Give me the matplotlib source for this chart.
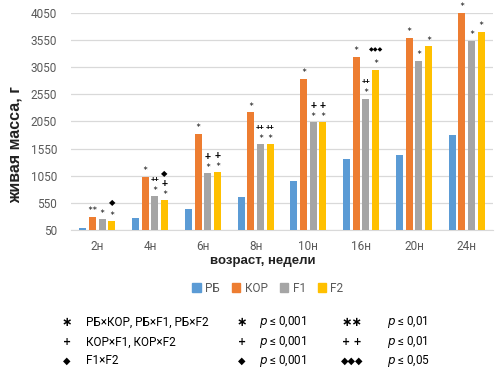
import matplotlib
matplotlib.use("Agg")
import matplotlib.pyplot as plt
from matplotlib.patches import Patch
import numpy as np

categories = ["2н", "4н", "6н", "8н", "10н", "16н", "20н", "24н"]
series_names = ["РБ", "КОР", "F1", "F2"]
rb = [95, 270, 435, 655, 945, 1350, 1430, 1800]
kor = [295, 1030, 1820, 2220, 2830, 3235, 3585, 4050]
f1 = [250, 675, 1095, 1630, 2030, 2470, 3170, 3535]
f2 = [210, 595, 1115, 1630, 2030, 3000, 3430, 3695]
colors = ["#5B9BD5", "#ED7D31", "#A5A5A5", "#FFC000"]

# significance marks, bottom to top, per bar
rb_marks = ["", "", "", "", "", "", "", ""]
kor_marks = ["**", "*", "*", "*", "*", "*", "*", "*"]
f1_marks = ["*", "* ++", "* +", "* ++", "* +", "* ++", "*", "*"]
f2_marks = ["* D", "* + D", "* +", "* ++", "* +", "* DDD", "*", "*"]

yticks = [50, 550, 1050, 1550, 2050, 2550, 3050, 3550, 4050]

plt.rcParams['font.family'] = ['Roboto', 'DejaVu Sans']

fig = plt.figure(figsize=(5.04, 3.8), dpi=100)
ax = fig.add_axes([71/504, 1-230/380, 422/504, (230-12.7)/380])

x = np.arange(len(categories))
step = 0.184
width = 0.133
data = [rb, kor, f1, f2]
marks = [rb_marks, kor_marks, f1_marks, f2_marks]


def put(s, xi, v, off, fs, fam="DejaVu Sans", weight="normal", color="black"):
    ax.annotate(s, (xi, v), xytext=(0, off * 0.72), textcoords="offset points",
                ha="center", va="center", fontsize=fs, family=fam, fontweight=weight,
                color=color, zorder=5, annotation_clip=False)


for i, (vals, col) in enumerate(zip(data, colors)):
    xs = x + (i - 1.5) * step
    ax.bar(xs, vals, width=width, color=col, zorder=3, label=series_names[i])
    for xi, v, m in zip(xs, vals, marks[i]):
        if not m:
            continue
        off = 0.0
        for tok in m.split():
            if tok in ("*", "**"):
                off += 8
                put("∗" * len(tok), xi, v, off, 4.5, color="#222222")
            elif tok == "+":
                off += 8
                put("+", xi, v, off, 7.5, fam="Liberation Sans", weight="bold")
            elif tok == "++":
                off += 8
                put("++", xi, v, off, 5.5, fam="Liberation Sans", weight="bold")
            elif tok == "D":
                off += 11
                put("◆", xi, v, off, 6)
            elif tok == "DDD":
                off += 12
                put("◆◆◆", xi, v, off, 4.5)

ax.set_xlim(-0.5, len(categories) - 0.5)
ax.set_ylim(50, 4050)
ax.set_yticks(yticks)
ax.set_xticks(x)
ax.set_xticklabels(categories)
ax.grid(axis="y", color="#D9D9D9", linewidth=0.9, zorder=0)
for sp in ("top", "right", "left"):
    ax.spines[sp].set_visible(False)
ax.spines["bottom"].set_color("#D9D9D9")
ax.tick_params(axis="both", length=0, labelsize=8.5, labelcolor="#595959")
ax.tick_params(axis="x", pad=7)
ax.tick_params(axis="y", pad=10)

fig.text(15/504, 1-145/380, "живая масса, г", rotation=90, ha="center", va="center",
         fontsize=11.5, fontweight="bold", family="Liberation Sans", color="#222222")
fig.text(263/504, 1-261/380, "возраст, недели", ha="center", va="center",
         fontsize=9.5, fontweight="bold", family="Liberation Sans", color="#222222")

handles = [Patch(color=c) for c in colors]
fig.legend(handles, series_names, loc="center", bbox_to_anchor=(268/504, 1-288/380),
           ncol=4, frameon=False, fontsize=8.5, handlelength=0.7, handleheight=0.7,
           handletextpad=0.4, columnspacing=1.0, labelcolor="#595959")

# significance key
row_y = [322, 342, 361]
sym1 = ["∗", "+", "◆"]
desc = ["РБ×КОР, РБ×F1, РБ×F2", "КОР×F1, КОР×F2", "F1×F2"]
sym2 = ["∗∗", "+ +", "◆◆◆"]
p2 = ["0,01", "0,01", "0,05"]
for r in range(3):
    yy = 1 - row_y[r] / 380
    fs_sym = 9 if r == 0 else 7
    fig.text(67/504, yy, sym1[r], ha="center", va="center", fontsize=fs_sym,
             family="DejaVu Sans", fontweight="bold", color="black")
    fig.text(86/504, yy, desc[r], ha="left", va="center", fontsize=8.5, color="black")
    fig.text(242/504, yy, sym1[r], ha="center", va="center", fontsize=fs_sym,
             family="DejaVu Sans", fontweight="bold", color="black")
    fig.text(259/504, yy, r"$\it{p}$ ≤ 0,001", ha="left", va="center", fontsize=8.5, color="black")
    fig.text(352/504, yy, sym2[r], ha="center", va="center", fontsize=fs_sym,
             family="DejaVu Sans", fontweight="bold", color="black")
    fig.text(387/504, yy, r"$\it{p}$ ≤ " + p2[r], ha="left", va="center", fontsize=8.5, color="black")

fig.savefig("out.png", dpi=100)
